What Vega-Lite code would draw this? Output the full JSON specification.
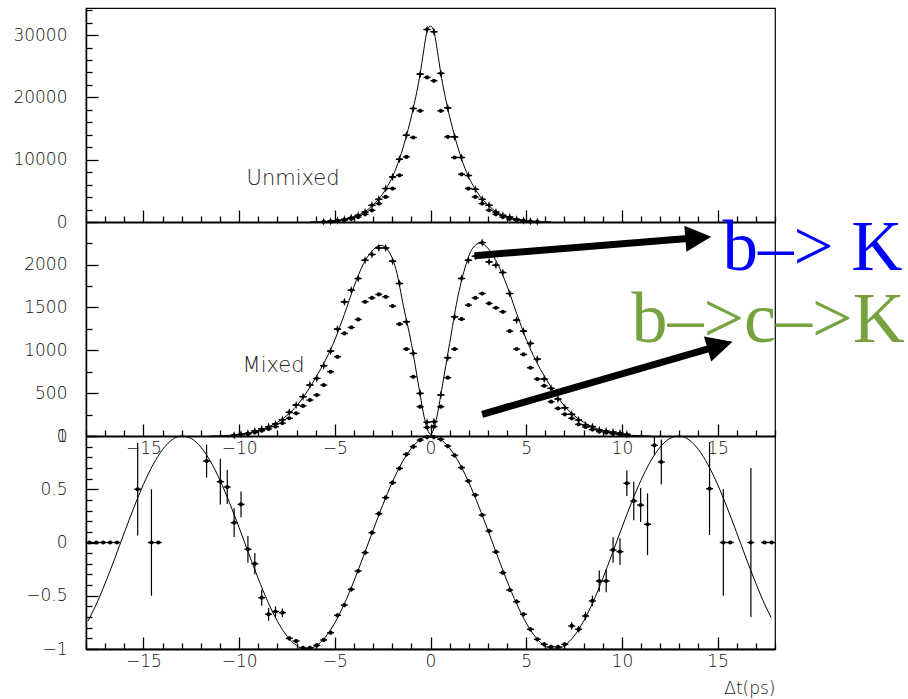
{
  "$schema": "https://vega.github.io/schema/vega-lite/v6.json",
  "width": 689,
  "height": 641,
  "autosize": {"type": "none"},
  "padding": {"left": 86, "top": 8, "right": 133, "bottom": 50},
  "background": "white",
  "config": {
    "view": {"stroke": "black", "strokeWidth": 1.2},
    "axis": {"domainColor": "black", "tickColor": "black", "tickWidth": 1.3, "labelColor": "#111111", "labelFont": "DejaVu Sans", "labelFontSize": 17, "labelFontWeight": 200, "labelOverlap": false, "labelFlush": false, "grid": false}
  },
  "datasets": {
    "topfit": [
      {"x": -6.3, "v": 20}, {"x": -5.94, "v": 40}, {"x": -5.58, "v": 70}, {"x": -5.22, "v": 130}, {"x": -4.86, "v": 250}, {"x": -4.5, "v": 440}, {"x": -4.14, "v": 720}, {"x": -3.78, "v": 1100}, {"x": -3.42, "v": 1650}, {"x": -3.06, "v": 2600}, {"x": -2.7, "v": 3700}, {"x": -2.34, "v": 5250}, {"x": -1.98, "v": 7300}, {"x": -1.62, "v": 10150}, {"x": -1.26, "v": 13800}, {"x": -0.9, "v": 18250}, {"x": -0.54, "v": 23800}, {"x": -0.36, "v": 27400}, {"x": -0.18, "v": 30600}, {"x": 0, "v": 31450}, {"x": 0.18, "v": 30600}, {"x": 0.36, "v": 27400}, {"x": 0.54, "v": 23800}, {"x": 0.9, "v": 18250}, {"x": 1.26, "v": 13800}, {"x": 1.62, "v": 10150}, {"x": 1.98, "v": 7300}, {"x": 2.34, "v": 5250}, {"x": 2.7, "v": 3700}, {"x": 3.06, "v": 2600}, {"x": 3.42, "v": 1650}, {"x": 3.78, "v": 1100}, {"x": 4.14, "v": 720}, {"x": 4.5, "v": 440}, {"x": 4.86, "v": 250}, {"x": 5.22, "v": 130}, {"x": 5.58, "v": 70}, {"x": 5.94, "v": 40}, {"x": 6.3, "v": 20}
    ],
    "top": [
      {"x": -5.58, "u": 60, "l": 40}, {"x": -5.22, "u": 110, "l": 80}, {"x": -4.86, "u": 230, "l": 170}, {"x": -4.5, "u": 430, "l": 300}, {"x": -4.14, "u": 700, "l": 500}, {"x": -3.78, "u": 1080, "l": 800}, {"x": -3.42, "u": 1610, "l": 1240}, {"x": -3.06, "u": 2680, "l": 1880}, {"x": -2.7, "u": 3650, "l": 2950}, {"x": -2.34, "u": 5370, "l": 4020}, {"x": -1.98, "u": 7230, "l": 5370}, {"x": -1.62, "u": 10075, "l": 7500}, {"x": -1.26, "u": 13930, "l": 10450}, {"x": -0.9, "u": 18220, "l": 13560}, {"x": -0.54, "u": 23730, "l": 17840}, {"x": -0.18, "u": 30900, "l": 23200}, {"x": 0.18, "u": 30530, "l": 22660}, {"x": 0.54, "u": 23850, "l": 17840}, {"x": 0.9, "u": 18320, "l": 13660}, {"x": 1.26, "u": 13660, "l": 10350}, {"x": 1.62, "u": 10350, "l": 7660}, {"x": 1.98, "u": 7455, "l": 5370}, {"x": 2.34, "u": 5255, "l": 4020}, {"x": 2.7, "u": 3650, "l": 2950}, {"x": 3.06, "u": 2680, "l": 1880}, {"x": 3.42, "u": 1610, "l": 1240}, {"x": 3.78, "u": 1080, "l": 800}, {"x": 4.14, "u": 800, "l": 500}, {"x": 4.5, "u": 430, "l": 300}, {"x": 4.86, "u": 230, "l": 170}, {"x": 5.22, "u": 110, "l": 80}, {"x": 5.58, "u": 60, "l": 40}
    ],
    "midfit": [
      {"x": -11.5, "v": 0}, {"x": -11, "v": 3}, {"x": -10.5, "v": 8}, {"x": -10, "v": 17}, {"x": -9.5, "v": 33}, {"x": -9, "v": 60}, {"x": -8.5, "v": 102}, {"x": -8, "v": 160}, {"x": -7.5, "v": 240}, {"x": -7, "v": 350}, {"x": -6.5, "v": 500}, {"x": -6, "v": 680}, {"x": -5.5, "v": 880}, {"x": -5, "v": 1120}, {"x": -4.5, "v": 1420}, {"x": -4, "v": 1740}, {"x": -3.5, "v": 2010}, {"x": -3, "v": 2170}, {"x": -2.6, "v": 2225}, {"x": -2.2, "v": 2160}, {"x": -1.8, "v": 1940}, {"x": -1.4, "v": 1500}, {"x": -1, "v": 1080}, {"x": -0.6, "v": 560}, {"x": -0.3, "v": 190}, {"x": -0.15, "v": 70}, {"x": 0, "v": 20}, {"x": 0.15, "v": 70}, {"x": 0.3, "v": 190}, {"x": 0.6, "v": 560}, {"x": 1, "v": 1080}, {"x": 1.4, "v": 1590}, {"x": 1.8, "v": 1960}, {"x": 2.2, "v": 2190}, {"x": 2.6, "v": 2250}, {"x": 3, "v": 2190}, {"x": 3.5, "v": 2010}, {"x": 4, "v": 1750}, {"x": 4.5, "v": 1430}, {"x": 5, "v": 1130}, {"x": 5.5, "v": 880}, {"x": 6, "v": 680}, {"x": 6.5, "v": 500}, {"x": 7, "v": 350}, {"x": 7.5, "v": 240}, {"x": 8, "v": 160}, {"x": 8.5, "v": 102}, {"x": 9, "v": 60}, {"x": 9.5, "v": 33}, {"x": 10, "v": 17}, {"x": 10.5, "v": 8}, {"x": 11, "v": 3}, {"x": 11.5, "v": 0}
    ],
    "mid": [
      {"x": -10.26, "u": 8, "l": 5}, {"x": -9.9, "u": 20, "l": 14}, {"x": -9.54, "u": 31, "l": 24}, {"x": -9.18, "u": 58, "l": 42}, {"x": -8.82, "u": 82, "l": 62}, {"x": -8.46, "u": 108, "l": 82}, {"x": -8.1, "u": 140, "l": 110}, {"x": -7.74, "u": 190, "l": 150}, {"x": -7.38, "u": 276, "l": 207}, {"x": -7.02, "u": 361, "l": 264}, {"x": -6.66, "u": 458, "l": 350}, {"x": -6.3, "u": 594, "l": 419}, {"x": -5.94, "u": 672, "l": 478}, {"x": -5.58, "u": 819, "l": 594}, {"x": -5.22, "u": 990, "l": 749}, {"x": -4.86, "u": 1247, "l": 924}, {"x": -4.5, "u": 1565, "l": 1196}, {"x": -4.14, "u": 1701, "l": 1266}, {"x": -3.78, "u": 1837, "l": 1359}, {"x": -3.42, "u": 2050, "l": 1565}, {"x": -3.06, "u": 2117, "l": 1611}, {"x": -2.7, "u": 2194, "l": 1651}, {"x": -2.34, "u": 2194, "l": 1623}, {"x": -1.98, "u": 2039, "l": 1515}, {"x": -1.62, "u": 1779, "l": 1305}, {"x": -1.26, "u": 1332, "l": 1014}, {"x": -0.9, "u": 963, "l": 691}, {"x": -0.54, "u": 497, "l": 342}, {"x": -0.18, "u": 160, "l": 100},
      {"x": 0.18, "u": 167, "l": 109}, {"x": 0.54, "u": 478, "l": 342}, {"x": 0.9, "u": 912, "l": 680}, {"x": 1.26, "u": 1390, "l": 1014}, {"x": 1.62, "u": 1837, "l": 1363}, {"x": 1.98, "u": 2050, "l": 1526}, {"x": 2.34, "u": 2097, "l": 1611}, {"x": 2.7, "u": 2256, "l": 1662}, {"x": 3.06, "u": 2031, "l": 1546}, {"x": 3.42, "u": 1992, "l": 1495}, {"x": 3.78, "u": 1907, "l": 1449}, {"x": 4.14, "u": 1662, "l": 1223}, {"x": 4.5, "u": 1351, "l": 1014}, {"x": 4.86, "u": 1223, "l": 951}, {"x": 5.22, "u": 1080, "l": 796}, {"x": 5.58, "u": 897, "l": 664}, {"x": 5.94, "u": 664, "l": 586}, {"x": 6.3, "u": 556, "l": 400}, {"x": 6.66, "u": 431, "l": 322}, {"x": 7.02, "u": 330, "l": 253}, {"x": 7.38, "u": 253, "l": 206}, {"x": 7.74, "u": 186, "l": 136}, {"x": 8.1, "u": 128, "l": 105}, {"x": 8.46, "u": 109, "l": 75}, {"x": 8.82, "u": 70, "l": 52}, {"x": 9.18, "u": 58, "l": 38}, {"x": 9.54, "u": 47, "l": 26}, {"x": 9.9, "u": 35, "l": 16}, {"x": 10.26, "u": 20, "l": 8}
    ],
    "asymfit": [
      {"x": -17.9, "a": -0.739}, {"x": -17.5, "a": -0.595}, {"x": -17, "a": -0.384}, {"x": -16.5, "a": -0.151}, {"x": -16, "a": 0.091}, {"x": -15.5, "a": 0.327}, {"x": -15, "a": 0.545}, {"x": -14.5, "a": 0.73}, {"x": -14, "a": 0.873}, {"x": -13.5, "a": 0.965}, {"x": -13, "a": 1.0}, {"x": -12.5, "a": 0.976}, {"x": -12, "a": 0.896}, {"x": -11.5, "a": 0.763}, {"x": -11, "a": 0.585}, {"x": -10.5, "a": 0.373}, {"x": -10, "a": 0.139}, {"x": -9.5, "a": -0.103}, {"x": -9, "a": -0.339}, {"x": -8.5, "a": -0.556}, {"x": -8, "a": -0.739}, {"x": -7.5, "a": -0.879}, {"x": -7, "a": -0.968}, {"x": -6.5, "a": -1.0}, {"x": -6, "a": -0.974}, {"x": -5.5, "a": -0.89}, {"x": -5, "a": -0.755}, {"x": -4.5, "a": -0.575}, {"x": -4, "a": -0.362}, {"x": -3.5, "a": -0.127}, {"x": -3, "a": 0.115}, {"x": -2.5, "a": 0.35}, {"x": -2, "a": 0.565}, {"x": -1.5, "a": 0.747}, {"x": -1, "a": 0.885}, {"x": -0.5, "a": 0.971}, {"x": 0, "a": 1.0},
      {"x": 0.5, "a": 0.971}, {"x": 1, "a": 0.885}, {"x": 1.5, "a": 0.747}, {"x": 2, "a": 0.565}, {"x": 2.5, "a": 0.35}, {"x": 3, "a": 0.115}, {"x": 3.5, "a": -0.127}, {"x": 4, "a": -0.362}, {"x": 4.5, "a": -0.575}, {"x": 5, "a": -0.755}, {"x": 5.5, "a": -0.89}, {"x": 6, "a": -0.974}, {"x": 6.5, "a": -1.0}, {"x": 7, "a": -0.968}, {"x": 7.5, "a": -0.879}, {"x": 8, "a": -0.739}, {"x": 8.5, "a": -0.556}, {"x": 9, "a": -0.339}, {"x": 9.5, "a": -0.103}, {"x": 10, "a": 0.139}, {"x": 10.5, "a": 0.373}, {"x": 11, "a": 0.585}, {"x": 11.5, "a": 0.763}, {"x": 12, "a": 0.896}, {"x": 12.5, "a": 0.976}, {"x": 13, "a": 1.0}, {"x": 13.5, "a": 0.965}, {"x": 14, "a": 0.873}, {"x": 14.5, "a": 0.73}, {"x": 15, "a": 0.545}, {"x": 15.5, "a": 0.327}, {"x": 16, "a": 0.091}, {"x": 16.5, "a": -0.151}, {"x": 17, "a": -0.384}, {"x": 17.5, "a": -0.595}, {"x": 17.8, "a": -0.705}
    ],
    "asym": [
      {"x": -17.82, "a": 0, "err": 0}, {"x": -17.46, "a": 0, "err": 0}, {"x": -17.1, "a": 0, "err": 0}, {"x": -16.74, "a": 0, "err": 0}, {"x": -16.38, "a": 0, "err": 0}, {"x": -15.3, "a": 0.5, "err": 0.435}, {"x": -14.58, "a": 0, "err": 0.5}, {"x": -14.22, "a": 0, "err": 0}, {"x": -11.7, "a": 0.765, "err": 0.155}, {"x": -10.98, "a": 0.571, "err": 0.215}, {"x": -10.62, "a": 0.521, "err": 0.16}, {"x": -10.26, "a": 0.186, "err": 0.135}, {"x": -9.9, "a": 0.358, "err": 0.12}, {"x": -9.54, "a": -0.064, "err": 0.125}, {"x": -9.18, "a": -0.199, "err": 0.1}, {"x": -8.82, "a": -0.518, "err": 0.075}, {"x": -8.46, "a": -0.674, "err": 0.06}, {"x": -8.1, "a": -0.649, "err": 0.05}, {"x": -7.74, "a": -0.659, "err": 0.04}, {"x": -7.38, "a": -0.9, "err": 0.02}, {"x": -7.02, "a": -0.925, "err": 0.02}, {"x": -6.66, "a": -0.99, "err": 0.02}, {"x": -6.3, "a": -0.99, "err": 0.02}, {"x": -5.94, "a": -0.966, "err": 0.02}, {"x": -5.58, "a": -0.915, "err": 0.02}, {"x": -5.22, "a": -0.847, "err": 0.02}, {"x": -4.86, "a": -0.684, "err": 0.02}, {"x": -4.5, "a": -0.587, "err": 0.02}, {"x": -4.14, "a": -0.44, "err": 0.02}, {"x": -3.78, "a": -0.268, "err": 0.02}, {"x": -3.42, "a": -0.095, "err": 0.02}, {"x": -3.06, "a": 0.092, "err": 0.02}, {"x": -2.7, "a": 0.27, "err": 0.02}, {"x": -2.34, "a": 0.421, "err": 0.02}, {"x": -1.98, "a": 0.562, "err": 0.02}, {"x": -1.62, "a": 0.696, "err": 0.02}, {"x": -1.26, "a": 0.828, "err": 0.02}, {"x": -0.9, "a": 0.9, "err": 0.02}, {"x": -0.54, "a": 0.962, "err": 0.02}, {"x": -0.18, "a": 0.99, "err": 0.02},
      {"x": 0.18, "a": 0.99, "err": 0.02}, {"x": 0.54, "a": 0.969, "err": 0.02}, {"x": 0.9, "a": 0.906, "err": 0.02}, {"x": 1.26, "a": 0.818, "err": 0.02}, {"x": 1.62, "a": 0.703, "err": 0.02}, {"x": 1.98, "a": 0.577, "err": 0.02}, {"x": 2.34, "a": 0.446, "err": 0.02}, {"x": 2.7, "a": 0.258, "err": 0.02}, {"x": 3.06, "a": 0.108, "err": 0.02}, {"x": 3.42, "a": -0.089, "err": 0.02}, {"x": 3.78, "a": -0.283, "err": 0.02}, {"x": 4.14, "a": -0.446, "err": 0.02}, {"x": 4.5, "a": -0.556, "err": 0.02}, {"x": 4.86, "a": -0.674, "err": 0.02}, {"x": 5.22, "a": -0.815, "err": 0.02}, {"x": 5.58, "a": -0.909, "err": 0.02}, {"x": 5.94, "a": -0.956, "err": 0.02}, {"x": 6.3, "a": -0.98, "err": 0.02}, {"x": 6.66, "a": -0.98, "err": 0.02}, {"x": 7.02, "a": -0.956, "err": 0.02}, {"x": 7.38, "a": -0.784, "err": 0.035}, {"x": 7.74, "a": -0.815, "err": 0.03}, {"x": 8.1, "a": -0.69, "err": 0.04}, {"x": 8.46, "a": -0.549, "err": 0.05}, {"x": 8.82, "a": -0.362, "err": 0.1}, {"x": 9.18, "a": -0.362, "err": 0.105}, {"x": 9.54, "a": -0.07, "err": 0.12}, {"x": 9.9, "a": -0.086, "err": 0.125}, {"x": 10.26, "a": 0.556, "err": 0.12}, {"x": 10.62, "a": 0.39, "err": 0.18}, {"x": 10.98, "a": 0.352, "err": 0.16}, {"x": 11.34, "a": 0.171, "err": 0.29}, {"x": 11.7, "a": 0.912, "err": 0.088}, {"x": 12.06, "a": 0.756, "err": 0.21}, {"x": 14.58, "a": 0.505, "err": 0.435}, {"x": 15.3, "a": 0, "err": 0.5}, {"x": 15.66, "a": 0, "err": 0}, {"x": 16.74, "a": 0, "err": 0.7}, {"x": 17.46, "a": 0, "err": 0}, {"x": 17.82, "a": 0, "err": 0}
    ]
  },
  "resolve": {"scale": {"y": "independent"}, "axis": {"x": "independent", "y": "independent"}},
  "layer": [
    {
      "resolve": {"axis": {"x": "independent", "y": "independent"}},
      "layer": [
        {
          "data": {"name": "topfit"},
          "mark": {"type": "line", "interpolate": "monotone", "color": "black", "strokeWidth": 1},
          "encoding": {
            "x": {"field": "x", "type": "quantitative", "scale": {"domain": [-18, 18], "nice": false, "zero": false},
              "axis": {"orient": "bottom", "offset": -427, "values": [-15, -10, -5, 0, 5, 10, 15], "tickSize": -12, "labels": false, "domainWidth": 2, "title": null}},
            "y": {"field": "v", "type": "quantitative", "scale": {"domain": [0, 34340], "range": [214, 0], "nice": false, "zero": false},
              "axis": {"orient": "left", "values": [0, 10000, 20000, 30000], "tickSize": -12, "format": "d", "labelPadding": 31, "domainWidth": 1.5, "title": null}}
          }
        },
        {
          "data": {"name": "top"},
          "mark": {"type": "tick", "orient": "horizontal", "size": 7, "thickness": 1.4, "color": "black", "opacity": 1},
          "encoding": {
            "x": {"field": "x", "type": "quantitative", "scale": {"domain": [-18, 18], "nice": false, "zero": false},
              "axis": {"orient": "bottom", "offset": -427, "values": [-18,-17,-16,-14,-13,-12,-11,-9,-8,-7,-6,-4,-3,-2,-1,1,2,3,4,6,7,8,9,11,12,13,14,16,17,18], "tickSize": -6, "labels": false, "domain": false, "title": null}},
            "y": {"field": "l", "type": "quantitative", "scale": {"domain": [0, 34340], "range": [214, 0], "nice": false, "zero": false},
              "axis": {"orient": "left", "values": [2000,4000,6000,8000,12000,14000,16000,18000,22000,24000,26000,28000,32000,34000], "tickSize": -6, "labels": false, "domain": false, "title": null}}
          }
        },
        {
          "data": {"name": "top"},
          "mark": {"type": "point", "shape": "circle", "filled": true, "size": 18, "color": "black", "opacity": 1},
          "encoding": {
            "x": {"field": "x", "type": "quantitative", "scale": {"domain": [-18, 18], "nice": false, "zero": false}, "axis": null},
            "y": {"field": "l", "type": "quantitative", "scale": {"domain": [0, 34340], "range": [214, 0], "nice": false, "zero": false}, "axis": null}
          }
        },
        {
          "data": {"name": "top"},
          "mark": {"type": "tick", "orient": "horizontal", "size": 7, "thickness": 1.4, "color": "black", "opacity": 1},
          "encoding": {
            "x": {"field": "x", "type": "quantitative", "scale": {"domain": [-18, 18], "nice": false, "zero": false}, "axis": null},
            "y": {"field": "u", "type": "quantitative", "scale": {"domain": [0, 34340], "range": [214, 0], "nice": false, "zero": false}, "axis": null}
          }
        },
        {
          "data": {"name": "top"},
          "mark": {"type": "point", "shape": "M0,-1L0.25,-0.25L1,0L0.25,0.25L0,1L-0.25,0.25L-1,0L-0.25,-0.25Z", "filled": true, "size": 72, "color": "black", "opacity": 1},
          "encoding": {
            "x": {"field": "x", "type": "quantitative", "scale": {"domain": [-18, 18], "nice": false, "zero": false}, "axis": null},
            "y": {"field": "u", "type": "quantitative", "scale": {"domain": [0, 34340], "range": [214, 0], "nice": false, "zero": false}, "axis": null}
          }
        },
        {
          "data": {"values": [{"x": -7.18, "v": 5940, "t": "Unmixed"}]},
          "mark": {"type": "text", "font": "DejaVu Sans", "fontSize": 21, "fontWeight": 200, "color": "#222222", "align": "center", "baseline": "alphabetic"},
          "encoding": {
            "x": {"field": "x", "type": "quantitative", "scale": {"domain": [-18, 18], "nice": false, "zero": false}, "axis": null},
            "y": {"field": "v", "type": "quantitative", "scale": {"domain": [0, 34340], "range": [214, 0], "nice": false, "zero": false}, "axis": null},
            "text": {"field": "t"}
          }
        }
      ]
    },
    {
      "resolve": {"axis": {"x": "independent", "y": "independent"}},
      "layer": [
        {
          "data": {"name": "midfit"},
          "mark": {"type": "line", "interpolate": "monotone", "color": "black", "strokeWidth": 1},
          "encoding": {
            "x": {"field": "x", "type": "quantitative", "scale": {"domain": [-18, 18], "nice": false, "zero": false},
              "axis": {"orient": "bottom", "offset": -213, "values": [-15, -10, -5, 0, 5, 10, 15], "tickSize": -12, "format": "d", "labelPadding": 16, "domainWidth": 2, "title": null}},
            "y": {"field": "v", "type": "quantitative", "scale": {"domain": [0, 2496], "range": [428, 214], "nice": false, "zero": false},
              "axis": {"orient": "left", "values": [0, 500, 1000, 1500, 2000], "tickSize": -12, "format": "d", "labelPadding": 31, "domainWidth": 1.5, "title": null}}
          }
        },
        {
          "data": {"name": "mid"},
          "mark": {"type": "tick", "orient": "horizontal", "size": 7, "thickness": 1.4, "color": "black", "opacity": 1},
          "encoding": {
            "x": {"field": "x", "type": "quantitative", "scale": {"domain": [-18, 18], "nice": false, "zero": false},
              "axis": {"orient": "bottom", "offset": -213, "values": [-18,-17,-16,-14,-13,-12,-11,-9,-8,-7,-6,-4,-3,-2,-1,1,2,3,4,6,7,8,9,11,12,13,14,16,17,18], "tickSize": -6, "labels": false, "domain": false, "title": null}},
            "y": {"field": "l", "type": "quantitative", "scale": {"domain": [0, 2496], "range": [428, 214], "nice": false, "zero": false},
              "axis": {"orient": "left", "values": [250, 750, 1250, 1750, 2250], "tickSize": -6, "labels": false, "domain": false, "title": null}}
          }
        },
        {
          "data": {"name": "mid"},
          "mark": {"type": "point", "shape": "circle", "filled": true, "size": 18, "color": "black", "opacity": 1},
          "encoding": {
            "x": {"field": "x", "type": "quantitative", "scale": {"domain": [-18, 18], "nice": false, "zero": false}, "axis": null},
            "y": {"field": "l", "type": "quantitative", "scale": {"domain": [0, 2496], "range": [428, 214], "nice": false, "zero": false}, "axis": null}
          }
        },
        {
          "data": {"name": "mid"},
          "mark": {"type": "tick", "orient": "horizontal", "size": 7, "thickness": 1.4, "color": "black", "opacity": 1},
          "encoding": {
            "x": {"field": "x", "type": "quantitative", "scale": {"domain": [-18, 18], "nice": false, "zero": false}, "axis": null},
            "y": {"field": "u", "type": "quantitative", "scale": {"domain": [0, 2496], "range": [428, 214], "nice": false, "zero": false}, "axis": null}
          }
        },
        {
          "data": {"name": "mid"},
          "mark": {"type": "point", "shape": "M0,-1L0.25,-0.25L1,0L0.25,0.25L0,1L-0.25,0.25L-1,0L-0.25,-0.25Z", "filled": true, "size": 72, "color": "black", "opacity": 1},
          "encoding": {
            "x": {"field": "x", "type": "quantitative", "scale": {"domain": [-18, 18], "nice": false, "zero": false}, "axis": null},
            "y": {"field": "u", "type": "quantitative", "scale": {"domain": [0, 2496], "range": [428, 214], "nice": false, "zero": false}, "axis": null}
          }
        },
        {
          "data": {"values": [{"x": -8.2, "v": 750, "t": "Mixed"}]},
          "mark": {"type": "text", "font": "DejaVu Sans", "fontSize": 21, "fontWeight": 200, "color": "#222222", "align": "center", "baseline": "alphabetic"},
          "encoding": {
            "x": {"field": "x", "type": "quantitative", "scale": {"domain": [-18, 18], "nice": false, "zero": false}, "axis": null},
            "y": {"field": "v", "type": "quantitative", "scale": {"domain": [0, 2496], "range": [428, 214], "nice": false, "zero": false}, "axis": null},
            "text": {"field": "t"}
          }
        },
        {
          "data": {"values": [{"x": 10.5, "v": 1100, "t": "b–>c–>K"}]},
          "mark": {"type": "text", "font": "Liberation Serif", "fontSize": 72, "color": "#78a240", "align": "left", "baseline": "alphabetic"},
          "encoding": {
            "x": {"field": "x", "type": "quantitative", "scale": {"domain": [-18, 18], "nice": false, "zero": false}, "axis": null},
            "y": {"field": "v", "type": "quantitative", "scale": {"domain": [0, 2496], "range": [428, 214], "nice": false, "zero": false}, "axis": null},
            "text": {"field": "t"}
          }
        },
        {
          "data": {"values": [{"x": 15.26, "v": 1936, "t": "b–> K"}]},
          "mark": {"type": "text", "font": "Liberation Serif", "fontSize": 71, "color": "#0000ff", "align": "left", "baseline": "alphabetic"},
          "encoding": {
            "x": {"field": "x", "type": "quantitative", "scale": {"domain": [-18, 18], "nice": false, "zero": false}, "axis": null},
            "y": {"field": "v", "type": "quantitative", "scale": {"domain": [0, 2496], "range": [428, 214], "nice": false, "zero": false}, "axis": null},
            "text": {"field": "t"}
          }
        },
        {
          "data": {"values": [{"x": 2.3, "v": 2103, "x2": 13.43, "v2": 2303}, {"x": 2.7, "v": 253, "x2": 14.73, "v2": 1032}]},
          "mark": {"type": "rule", "strokeWidth": 7, "color": "black", "strokeCap": "butt"},
          "encoding": {
            "x": {"field": "x", "type": "quantitative", "scale": {"domain": [-18, 18], "nice": false, "zero": false}, "axis": null},
            "y": {"field": "v", "type": "quantitative", "scale": {"domain": [0, 2496], "range": [428, 214], "nice": false, "zero": false}, "axis": null},
            "x2": {"field": "x2"},
            "y2": {"field": "v2"}
          }
        },
        {
          "data": {"values": [{"x": 14.67, "v": 2325}]},
          "mark": {"type": "point", "shape": "M0,0L-2,-1L-2,1Z", "filled": true, "size": 676, "color": "black", "opacity": 1, "angle": 355.4},
          "encoding": {
            "x": {"field": "x", "type": "quantitative", "scale": {"domain": [-18, 18], "nice": false, "zero": false}, "axis": null},
            "y": {"field": "v", "type": "quantitative", "scale": {"domain": [0, 2496], "range": [428, 214], "nice": false, "zero": false}, "axis": null}
          }
        },
        {
          "data": {"values": [{"x": 15.78, "v": 1100}]},
          "mark": {"type": "point", "shape": "M0,0L-2,-1L-2,1Z", "filled": true, "size": 676, "color": "black", "opacity": 1, "angle": 343.7},
          "encoding": {
            "x": {"field": "x", "type": "quantitative", "scale": {"domain": [-18, 18], "nice": false, "zero": false}, "axis": null},
            "y": {"field": "v", "type": "quantitative", "scale": {"domain": [0, 2496], "range": [428, 214], "nice": false, "zero": false}, "axis": null}
          }
        }
      ]
    },
    {
      "resolve": {"axis": {"x": "independent", "y": "independent"}},
      "layer": [
        {
          "data": {"name": "asymfit"},
          "mark": {"type": "line", "interpolate": "monotone", "color": "black", "strokeWidth": 1},
          "encoding": {
            "x": {"field": "x", "type": "quantitative", "scale": {"domain": [-18, 18], "nice": false, "zero": false},
              "axis": {"orient": "bottom", "offset": 0, "values": [-15, -10, -5, 0, 5, 10, 15], "tickSize": -12, "format": "d", "labelPadding": 16, "domainWidth": 2, "title": "Δt(ps)", "titleFont": "DejaVu Sans", "titleFontSize": 17, "titleFontWeight": 200, "titleColor": "#111111", "titleX": 689, "titleY": 44, "titleAlign": "right", "titleBaseline": "alphabetic"}},
            "y": {"field": "a", "type": "quantitative", "scale": {"domain": [-1, 1], "range": [641, 428], "nice": false, "zero": false},
              "axis": {"orient": "left", "values": [-1, -0.5, 0, 0.5, 1], "tickSize": -12, "format": "~g", "labelPadding": 31, "domainWidth": 1.5, "title": null}}
          }
        },
        {
          "data": {"name": "asym"},
          "mark": {"type": "tick", "orient": "horizontal", "size": 7, "thickness": 1.4, "color": "black", "opacity": 1},
          "encoding": {
            "x": {"field": "x", "type": "quantitative", "scale": {"domain": [-18, 18], "nice": false, "zero": false},
              "axis": {"orient": "bottom", "offset": 0, "values": [-18,-17,-16,-14,-13,-12,-11,-9,-8,-7,-6,-4,-3,-2,-1,1,2,3,4,6,7,8,9,11,12,13,14,16,17,18], "tickSize": -6, "labels": false, "domain": false, "title": null}},
            "y": {"field": "a", "type": "quantitative", "scale": {"domain": [-1, 1], "range": [641, 428], "nice": false, "zero": false},
              "axis": {"orient": "left", "values": [-0.9,-0.8,-0.7,-0.6,-0.4,-0.3,-0.2,-0.1,0.1,0.2,0.3,0.4,0.6,0.7,0.8,0.9], "tickSize": -6, "labels": false, "domain": false, "title": null}}
          }
        },
        {
          "data": {"name": "asym"},
          "mark": {"type": "errorbar", "color": "black", "thickness": 1.2},
          "encoding": {
            "x": {"field": "x", "type": "quantitative", "scale": {"domain": [-18, 18], "nice": false, "zero": false}, "axis": null},
            "y": {"field": "a", "type": "quantitative", "scale": {"domain": [-1, 1], "range": [641, 428], "nice": false, "zero": false}, "axis": null},
            "yError": {"field": "err"}
          }
        },
        {
          "data": {"name": "asym"},
          "mark": {"type": "point", "shape": "circle", "filled": true, "size": 18, "color": "black", "opacity": 1},
          "encoding": {
            "x": {"field": "x", "type": "quantitative", "scale": {"domain": [-18, 18], "nice": false, "zero": false}, "axis": null},
            "y": {"field": "a", "type": "quantitative", "scale": {"domain": [-1, 1], "range": [641, 428], "nice": false, "zero": false}, "axis": null}
          }
        }
      ]
    }
  ]
}
